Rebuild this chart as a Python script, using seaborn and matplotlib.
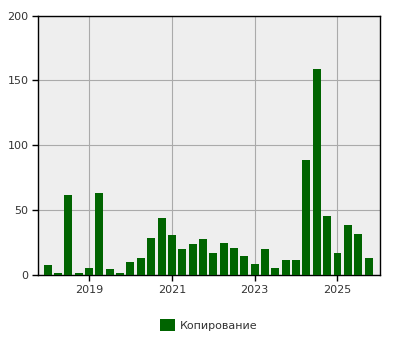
import matplotlib
matplotlib.use("Agg")
import matplotlib.pyplot as plt
import seaborn as sns
import pandas as pd
import numpy as np

years = [2018]*4 + [2019]*4 + [2020]*4 + [2021]*4 + [2022]*4 + [2023]*4 + [2024]*4 + [2025]*4
quarters = [1, 2, 3, 4] * 8
values = [8, 2, 62, 2, 6, 63, 5, 2,
          10, 13, 29, 44, 31, 20, 24, 28,
          17, 25, 21, 15, 9, 20, 6, 12,
          12, 89, 159, 46, 17, 39, 32, 13]
series_name = "Копирование"
xtick_years = [2019, 2021, 2023, 2025]
yticks = [0, 50, 100, 150, 200]

df = pd.DataFrame({
    "pos": [y + (q - 1) / 4 for y, q in zip(years, quarters)],
    "value": values,
    "series": series_name,
})

sns.set_style("white")
plt.rcParams["font.family"] = ["DejaVu Sans"]

fig = plt.figure(figsize=(4, 3.5), dpi=100)
ax = fig.add_axes([0.096, 0.2134, 0.853, 0.7423])
ax.set_facecolor("#eeeeee")

sns.barplot(data=df, x="pos", y="value", hue="series", native_scale=True,
            palette=["#006400"], width=0.77, saturation=1, ax=ax, zorder=3,
            linewidth=0, edgecolor="none", legend=True)

ax.set_xlim(2017.776, 2026.017)
ax.set_ylim(0, 200)
ax.set_xticks(xtick_years)
ax.set_xticklabels([str(y) for y in xtick_years])
ax.set_yticks(yticks)
ax.grid(True, color="#aaaaaa", linewidth=0.8, zorder=0)
ax.set_axisbelow(True)
for s in ax.spines.values():
    s.set_visible(True)
    s.set_color("black")
    s.set_linewidth(1.0)
ax.tick_params(axis="both", which="both", direction="out", length=4, width=1,
               color="black", labelsize=8, labelcolor="#333333",
               bottom=True, left=True, pad=3)
ax.set_xlabel("")
ax.set_ylabel("")

leg = ax.legend(loc="upper center", bbox_to_anchor=(0.5, -0.13), frameon=False,
                fontsize=8, handlelength=1.3, handleheight=1.3, handletextpad=0.5,
                labelcolor="#333333")

fig.savefig("out.png", dpi=100)
